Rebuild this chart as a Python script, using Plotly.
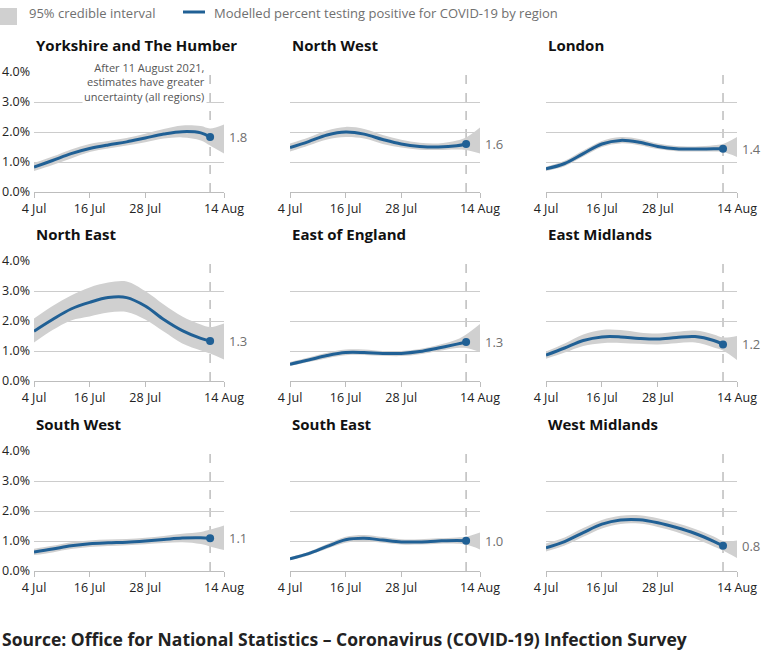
"""
Small-multiple chart: modelled percent testing positive for COVID-19 by region
(England, July to August 2021), with 95% credible intervals.
"""

import plotly.graph_objects as go
from plotly.subplots import make_subplots

# Data
regions = [
    'Yorkshire and The Humber', 'North West', 'London',
    'North East', 'East of England', 'East Midlands',
    'South West', 'South East', 'West Midlands',
]

# band runs to 14 Aug, modelled line stops at 11 Aug
dates = ['2021-07-04', '2021-07-08', '2021-07-12', '2021-07-16', '2021-07-20', '2021-07-24',
         '2021-07-28', '2021-08-01', '2021-08-05', '2021-08-09', '2021-08-11', '2021-08-14']
line_dates = dates[:11]

modelled = {
    'Yorkshire and The Humber': [0.83, 1.05, 1.28, 1.45, 1.57, 1.67, 1.80, 1.93, 2.01, 1.97, 1.83],
    'North West': [1.48, 1.68, 1.90, 2.00, 1.93, 1.75, 1.60, 1.52, 1.50, 1.54, 1.60],
    'London': [0.77, 0.95, 1.28, 1.60, 1.72, 1.66, 1.52, 1.44, 1.43, 1.44, 1.44],
    'North East': [1.66, 2.05, 2.40, 2.62, 2.78, 2.78, 2.50, 2.05, 1.68, 1.42, 1.33],
    'East of England': [0.56, 0.70, 0.85, 0.95, 0.95, 0.92, 0.92, 0.98, 1.10, 1.23, 1.30],
    'East Midlands': [0.86, 1.10, 1.35, 1.47, 1.47, 1.42, 1.40, 1.45, 1.48, 1.35, 1.22],
    'South West': [0.63, 0.73, 0.84, 0.91, 0.94, 0.96, 1.00, 1.05, 1.10, 1.11, 1.09],
    'South East': [0.41, 0.58, 0.82, 1.04, 1.09, 1.03, 0.97, 0.97, 1.00, 1.02, 1.01],
    'West Midlands': [0.77, 0.98, 1.28, 1.56, 1.70, 1.71, 1.61, 1.45, 1.25, 0.99, 0.84],
}

lower = {
    'Yorkshire and The Humber': [0.70, 0.90, 1.12, 1.33, 1.45, 1.55, 1.66, 1.78, 1.82, 1.72, 1.55, 1.28],
    'North West': [1.35, 1.55, 1.75, 1.83, 1.78, 1.60, 1.48, 1.41, 1.40, 1.42, 1.40, 1.28],
    'London': [0.70, 0.86, 1.18, 1.50, 1.62, 1.56, 1.43, 1.36, 1.35, 1.35, 1.33, 1.17],
    'North East': [1.28, 1.70, 2.02, 2.15, 2.28, 2.30, 2.05, 1.65, 1.25, 1.02, 0.92, 0.72],
    'East of England': [0.50, 0.63, 0.76, 0.86, 0.87, 0.84, 0.83, 0.89, 1.00, 1.10, 1.10, 0.97],
    'East Midlands': [0.74, 0.95, 1.17, 1.26, 1.27, 1.24, 1.22, 1.26, 1.28, 1.12, 1.02, 0.70],
    'South West': [0.53, 0.62, 0.73, 0.80, 0.83, 0.86, 0.89, 0.93, 0.96, 0.90, 0.82, 0.70],
    'South East': [0.36, 0.52, 0.74, 0.94, 0.99, 0.94, 0.88, 0.88, 0.91, 0.91, 0.88, 0.72],
    'West Midlands': [0.65, 0.85, 1.14, 1.42, 1.57, 1.58, 1.47, 1.30, 1.08, 0.82, 0.68, 0.43],
}

upper = {
    'Yorkshire and The Humber': [0.97, 1.18, 1.42, 1.60, 1.70, 1.80, 1.94, 2.10, 2.22, 2.20, 2.12, 2.25],
    'North West': [1.62, 1.82, 2.05, 2.17, 2.10, 1.90, 1.74, 1.64, 1.62, 1.72, 1.82, 2.15],
    'London': [0.84, 1.04, 1.38, 1.70, 1.83, 1.77, 1.62, 1.53, 1.52, 1.56, 1.60, 1.83],
    'North East': [2.08, 2.50, 2.85, 3.12, 3.28, 3.32, 3.00, 2.55, 2.15, 1.88, 1.80, 1.92],
    'East of England': [0.63, 0.78, 0.94, 1.05, 1.05, 1.00, 1.00, 1.07, 1.20, 1.38, 1.55, 1.90],
    'East Midlands': [0.98, 1.25, 1.55, 1.70, 1.70, 1.62, 1.58, 1.64, 1.68, 1.55, 1.45, 1.50],
    'South West': [0.74, 0.84, 0.96, 1.02, 1.05, 1.07, 1.11, 1.17, 1.24, 1.30, 1.38, 1.52],
    'South East': [0.46, 0.64, 0.90, 1.14, 1.20, 1.13, 1.06, 1.06, 1.09, 1.12, 1.14, 1.28],
    'West Midlands': [0.92, 1.12, 1.43, 1.70, 1.84, 1.86, 1.76, 1.60, 1.40, 1.15, 1.00, 1.02],
}

# published latest estimates (labels next to last point)
latest = [1.8, 1.6, 1.4, 1.3, 1.3, 1.2, 1.1, 1.0, 0.8]

x_tickvals = ['2021-07-04', '2021-07-16', '2021-07-28', '2021-08-14']
x_ticktext = ['4 Jul', '16 Jul', '28 Jul', '14 Aug']
y_tickvals = [0, 1, 2, 3, 4]
y_ticktext = [f'{v:.1f}%' for v in y_tickvals]
cutoff = '2021-08-11'

# Styling
W, H = 763, 655
FONT = 'Open Sans'
BLUE = '#206095'
BAND = '#d0d0d0'
GRID = '#cccccc'

col_px = [(34, 224), (290, 480), (546, 737)]     # plot left/right in px
row_px = [(72, 192), (261, 381), (451, 571)]     # plot top/bottom in px
title_px = [45, 234, 424]

fig = make_subplots(rows=3, cols=3)

for i, region in enumerate(regions):
    r, c = i // 3 + 1, i % 3 + 1

    # credible interval band
    fig.add_trace(go.Scatter(
        x=dates, y=lower[region], mode='lines', line=dict(width=0, shape='spline'),
        hoverinfo='skip', showlegend=False
    ), row=r, col=c)
    fig.add_trace(go.Scatter(
        x=dates, y=upper[region], mode='lines', line=dict(width=0, shape='spline'),
        fill='tonexty', fillcolor=BAND, hoverinfo='skip', showlegend=False
    ), row=r, col=c)

    # modelled estimate
    fig.add_trace(go.Scatter(
        x=line_dates, y=modelled[region], mode='lines',
        line=dict(color=BLUE, width=3, shape='spline'), showlegend=False
    ), row=r, col=c)
    fig.add_trace(go.Scatter(
        x=line_dates[-1:], y=modelled[region][-1:], mode='markers',
        marker=dict(color=BLUE, size=8), showlegend=False
    ), row=r, col=c)

    fig.add_vline(x=cutoff, line_dash='dash', line_color='#bdbdbd', line_width=1.5,
                  layer='below', row=r, col=c)

    fig.update_xaxes(
        domain=[col_px[c - 1][0] / W, col_px[c - 1][1] / W],
        range=['2021-07-04', '2021-08-14'],
        tickmode='array', tickvals=x_tickvals, ticktext=x_ticktext,
        showgrid=False, zeroline=False, automargin=False,
        showline=True, linecolor='#bdbdbd', linewidth=1,
        ticks='outside', ticklen=5, tickcolor='#bdbdbd',
        tickfont=dict(family=FONT, size=12.5, color='#222222'),
        row=r, col=c
    )
    fig.update_yaxes(
        domain=[1 - row_px[r - 1][1] / H, 1 - row_px[r - 1][0] / H],
        range=[0, 4], tickmode='array', tickvals=y_tickvals, ticktext=y_ticktext,
        showticklabels=(c == 1), showgrid=True, gridcolor=GRID, gridwidth=1,
        zeroline=False, showline=False, ticks='', automargin=False,
        ticklabelstandoff=3,
        tickfont=dict(family=FONT, size=12.5, color='#222222'),
        row=r, col=c
    )

    # region title
    fig.add_annotation(
        x=col_px[c - 1][0] / W, y=1 - title_px[r - 1] / H, xref='paper', yref='paper',
        text=f'<b>{region}</b>', showarrow=False, xanchor='left', yanchor='middle',
        font=dict(family=FONT, size=15, color='#111111')
    )

    # latest value label
    fig.add_annotation(
        x='2021-08-14', y=modelled[region][-1], xref=f'x{i + 1 if i else ""}',
        yref=f'y{i + 1 if i else ""}', text=f'{latest[i]:.1f}', showarrow=False,
        xanchor='left', yanchor='middle', xshift=3,
        font=dict(family=FONT, size=13, color='#707070')
    )

# note about uncertainty (first panel only)
fig.add_annotation(
    x=cutoff, y=3.68, xref='x', yref='y',
    text='After 11 August 2021,<br>estimates have greater<br>uncertainty (all regions)',
    showarrow=False, xanchor='right', yanchor='middle', align='right', xshift=-3,
    bgcolor='white', font=dict(family=FONT, size=11, color='#555555')
)

# legend, drawn by hand at the top
fig.add_shape(type='rect', xref='paper', yref='paper', x0=0, x1=17 / W,
              y0=1 - 25 / H, y1=1 - 8 / H, fillcolor=BAND, line_width=0)
fig.add_annotation(x=27 / W, y=1 - 13 / H, xref='paper', yref='paper',
                   text='95% credible interval', showarrow=False, xanchor='left',
                   yanchor='middle', font=dict(family=FONT, size=13, color='#707070'))
fig.add_shape(type='line', xref='paper', yref='paper', x0=183 / W, x1=205 / W,
              y0=1 - 12 / H, y1=1 - 12 / H, line=dict(color=BLUE, width=3))
fig.add_annotation(x=212 / W, y=1 - 13 / H, xref='paper', yref='paper',
                   text='Modelled percent testing positive for COVID-19 by region',
                   showarrow=False, xanchor='left', yanchor='middle',
                   font=dict(family=FONT, size=13, color='#707070'))

# source line
fig.add_annotation(x=0, y=1 - 639 / H, xref='paper', yref='paper',
                   text='<b>Source: Office for National Statistics – Coronavirus (COVID-19) Infection Survey</b>',
                   showarrow=False, xanchor='left', yanchor='middle',
                   font=dict(family=FONT, size=17.5, color='#222222'))

fig.update_layout(
    width=W, height=H,
    margin=dict(l=0, r=0, t=0, b=0),
    plot_bgcolor='white', paper_bgcolor='white',
    showlegend=False,
    font=dict(family=FONT)
)

# drop the default page margin so the figure sits at the window's corner
fig.write_html('out.html', config={'displayModeBar': False},
               post_script="document.body.style.margin = '0';")
